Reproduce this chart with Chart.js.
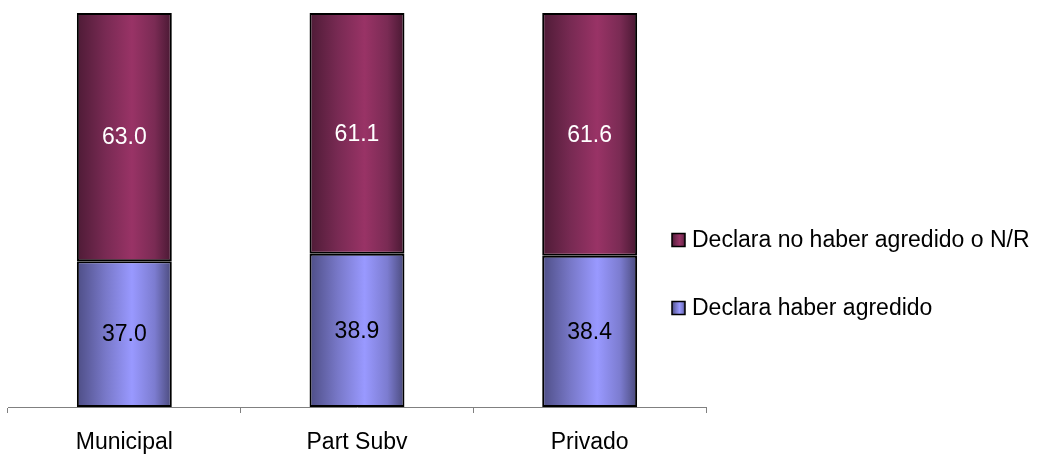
<!DOCTYPE html>
<html>
<head>
<meta charset="utf-8">
<script src="https://cdn.jsdelivr.net/npm/chart.js@4/dist/chart.umd.min.js"></script>
<style>
html,body{margin:0;padding:0;background:#fff;}
#wrap{width:1049px;height:456px;}
</style>
</head>
<body>
<div id="wrap"><canvas id="c" width="1049" height="456"></canvas></div>
<script>
const categories = ["Municipal", "Part Subv", "Privado"];
const agredido = [37.0, 38.9, 38.4];
const noAgredido = [63.0, 61.1, 61.6];
const seriesLabels = ["Declara haber agredido", "Declara no haber agredido o N/R"];

const FONT = "'Liberation Sans', Arial, sans-serif";
const BAR_FRACTION = 0.408;

const palettes = {
  blue: ['#4e4e86', '#7878c8', '#9999ff', '#7c7cd0', '#4a4a7c'],
  maroon: ['#4e1b36', '#782a53', '#993366', '#7a2b54', '#481832']
};
const labelColors = ['#000000', '#ffffff'];

function makeGrad(ctx, x0, x1, pal) {
  const g = ctx.createLinearGradient(x0, 0, x1, 0);
  g.addColorStop(0, pal[0]);
  g.addColorStop(0.3, pal[1]);
  g.addColorStop(0.58, pal[2]);
  g.addColorStop(0.82, pal[3]);
  g.addColorStop(1, pal[4]);
  return g;
}

function barFill(pal) {
  return function (context) {
    const chart = context.chart;
    const xs = chart.scales.x;
    if (!xs || context.dataIndex === undefined) return pal[2];
    const cx = xs.getPixelForValue(context.dataIndex);
    const catW = xs.width / categories.length;
    const w = catW * BAR_FRACTION;
    if (!isFinite(cx) || !isFinite(w) || w <= 0) return pal[2];
    return makeGrad(chart.ctx, cx - w / 2, cx + w / 2, pal);
  };
}

const labelPlugin = {
  id: 'barLabels',
  afterDatasetsDraw(chart) {
    const ctx = chart.ctx;
    ctx.save();
    ctx.font = "23px " + FONT;
    ctx.textAlign = 'center';
    ctx.textBaseline = 'middle';
    chart.data.datasets.forEach((ds, di) => {
      const meta = chart.getDatasetMeta(di);
      ctx.fillStyle = labelColors[di];
      meta.data.forEach((el, i) => {
        const y = (el.y + el.base) / 2;
        ctx.fillText(ds.data[i].toFixed(1), el.x, y + 1);
      });
    });
    ctx.restore();
  }
};

const legendPlugin = {
  id: 'sideLegend',
  afterDraw(chart) {
    const ctx = chart.ctx;
    const items = [
      { text: seriesLabels[1], pal: palettes.maroon, y: 240 },
      { text: seriesLabels[0], pal: palettes.blue, y: 308 }
    ];
    ctx.save();
    ctx.font = "23px " + FONT;
    ctx.textBaseline = 'middle';
    ctx.textAlign = 'left';
    const bx = chart.chartArea.right - 34;
    items.forEach(it => {
      const s = 13;
      ctx.fillStyle = makeGrad(ctx, bx, bx + s, it.pal);
      ctx.fillRect(bx, it.y - s / 2, s, s);
      ctx.lineWidth = 1.5;
      ctx.strokeStyle = '#000';
      ctx.strokeRect(bx, it.y - s / 2, s, s);
      ctx.fillStyle = '#000';
      ctx.fillText(it.text, bx + 20, it.y + 1);
    });
    ctx.restore();
  }
};

const barDefaults = { borderColor: '#000', borderWidth: 2, borderSkipped: false, categoryPercentage: BAR_FRACTION, barPercentage: 1 };

new Chart(document.getElementById('c'), {
  type: 'bar',
  data: {
    labels: categories,
    datasets: [
      Object.assign({ label: seriesLabels[0], data: agredido, backgroundColor: barFill(palettes.blue) }, barDefaults),
      Object.assign({ label: seriesLabels[1], data: noAgredido, backgroundColor: barFill(palettes.maroon) }, barDefaults)
    ]
  },
  options: {
    responsive: false,
    animation: false,
    layout: { padding: { left: 8, right: 343, top: 13, bottom: 0 } },
    plugins: { legend: { display: false }, tooltip: { enabled: false } },
    scales: {
      x: {
        stacked: true,
        afterFit(scale) { scale.height = 49; },
        grid: { display: true, offset: true, drawOnChartArea: false, drawTicks: true, tickLength: 6, color: '#808080' },
        border: { display: true, color: '#808080', width: 1 },
        ticks: { color: '#000', font: { family: FONT, size: 23 }, padding: 16, maxRotation: 0 }
      },
      y: {
        stacked: true,
        display: false,
        min: 0,
        max: 100
      }
    }
  },
  plugins: [labelPlugin, legendPlugin]
});
</script>
</body>
</html>
